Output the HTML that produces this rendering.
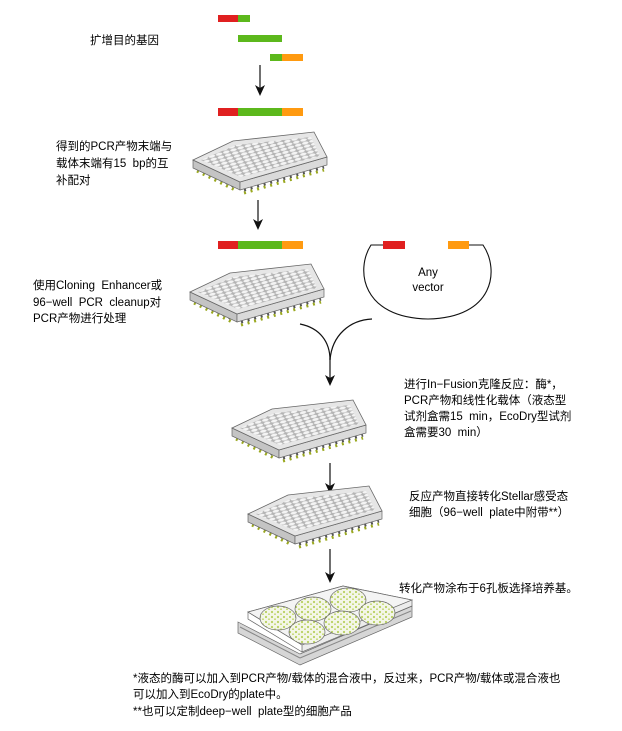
<!DOCTYPE html>
<html><head><meta charset="utf-8"><style>
html,body{margin:0;padding:0;background:#fff;}
svg{display:block;}
text{font-family:"Liberation Sans","Noto Sans CJK SC",sans-serif;font-size:11.5px;fill:#000;white-space:pre;}
</style></head><body>
<svg width="622" height="731" viewBox="0 0 622 731" xmlns="http://www.w3.org/2000/svg">
<defs>
<pattern id="wells" patternUnits="userSpaceOnUse" width="1" height="1" patternTransform="matrix(7.2,-2.1,1.75,3,0,0)">
<rect width="1" height="1" fill="#b4b4b4"/>
<ellipse cx=".5" cy=".5" rx=".44" ry=".42" fill="#f4f4f4"/>
</pattern>
<pattern id="dots" patternUnits="userSpaceOnUse" width="6" height="5">
<rect width="6" height="5" fill="#f4f6e8"/>
<circle cx="2" cy="2" r="1.1" fill="#b8d060"/>
<circle cx="5" cy="4.3" r="1" fill="#c6da7a"/>
</pattern>
<g id="plate">
<line x1="4" y1="11" x2="44" y2="31" stroke="#9aa820" stroke-width="3" stroke-dasharray="2 4.5"/>
<line x1="51" y1="33" x2="131" y2="10" stroke="#9aa820" stroke-width="3" stroke-dasharray="2 4.8"/>
<line x1="4" y1="8" x2="44" y2="28" stroke="#555" stroke-width="3" stroke-dasharray="2 4.5"/>
<line x1="51" y1="30" x2="131" y2="7" stroke="#555" stroke-width="3" stroke-dasharray="2 4.8"/>
<path d="M0,0 L47,22 L47,30 L0,8 Z" fill="#c4c4c4" stroke="#666" stroke-width=".7"/>
<path d="M47,22 L134,-3 L134,5 L47,30 Z" fill="#dadada" stroke="#666" stroke-width=".7"/>
<path d="M0,0 L40,-19 L121,-28 L134,-3 L47,22 Z" fill="#e6e6e6" stroke="#666" stroke-width=".8"/>
<path d="M8,0 L43,-15 L118,-23 L127,-4 L48,17 Z" fill="url(#wells)"/>
</g>
</defs>

<rect x="218" y="15" width="20" height="7" fill="#e02020"/><rect x="238" y="15" width="12" height="7" fill="#5cb81c"/>
<rect x="238" y="35" width="44" height="7" fill="#5cb81c"/>
<rect x="270" y="54" width="12" height="7" fill="#5cb81c"/><rect x="282" y="54" width="21" height="7" fill="#ff9a10"/>
<text x="90" y="44">扩增目的基因</text>

<g stroke="#111" stroke-width="1.2" fill="none">
<line x1="260" y1="65" x2="260" y2="88"/>
<line x1="258" y1="200" x2="258" y2="222"/>
<line x1="330" y1="358" x2="330" y2="378"/>
<line x1="330" y1="463" x2="330" y2="486"/>
<line x1="330" y1="549" x2="330" y2="575"/>
<path d="M300,324 C320,328 330,342 330,360"/>
<path d="M372,319 C350,320 332,335 330,360"/>
</g>
<g fill="#111">
<path d="M255,85 L260,96 L265,85 L260,88Z"/>
<path d="M253,219 L258,230 L263,219 L258,222Z"/>
<path d="M325,375 L330,386 L335,375 L330,378Z"/>
<path d="M325,483 L330,494 L335,483 L330,486Z"/>
<path d="M325,572 L330,583 L335,572 L330,575Z"/>
</g>

<rect x="218" y="108" width="20" height="8" fill="#e02020"/><rect x="238" y="108" width="44" height="8" fill="#5cb81c"/><rect x="282" y="108" width="21" height="8" fill="#ff9a10"/>
<rect x="218" y="241" width="20" height="8" fill="#e02020"/><rect x="238" y="241" width="44" height="8" fill="#5cb81c"/><rect x="282" y="241" width="21" height="8" fill="#ff9a10"/>

<use href="#plate" x="193" y="160"/>
<use href="#plate" x="190" y="292"/>
<use href="#plate" x="232" y="428"/>
<use href="#plate" x="248" y="514"/>

<text x="56" y="150">得到的PCR产物末端与</text>
<text x="56" y="167">载体末端有15  bp的互</text>
<text x="56" y="184">补配对</text>

<text x="33" y="289">使用Cloning  Enhancer或</text>
<text x="33" y="306">96−well  PCR  cleanup对</text>
<text x="33" y="322">PCR产物进行处理</text>

<path d="M383,245 L371,245 C355,270 362,318 428,319 C494,318 500,270 483,245 L469,245" fill="none" stroke="#111" stroke-width="1.1"/>
<rect x="383" y="241" width="22" height="8" fill="#e02020"/>
<rect x="448" y="241" width="21" height="8" fill="#ff9a10"/>
<text x="428" y="276" text-anchor="middle">Any</text>
<text x="428" y="291" text-anchor="middle">vector</text>

<text x="404" y="388">进行In−Fusion克隆反应：酶*，</text>
<text x="404" y="404">PCR产物和线性化载体（液态型</text>
<text x="404" y="420">试剂盒需15  min，EcoDry型试剂</text>
<text x="404" y="436">盒需要30  min）</text>

<text x="409" y="500">反应产物直接转化Stellar感受态</text>
<text x="409" y="516">细胞（96−well  plate中附带**）</text>

<text x="399" y="592">转化产物涂布于6孔板选择培养基。</text>

<path d="M238,622 L300,654 L412,606 L412,617 L300,665 L238,633 Z" fill="#d6d6d6" stroke="#666" stroke-width=".7"/>
<line x1="240" y1="627" x2="300" y2="658" stroke="#888" stroke-width="1"/>
<line x1="300" y1="658" x2="411" y2="611" stroke="#888" stroke-width="1"/>
<path d="M248,612 L343,586 L412,600 L412,606 L302,652 L302,645 Z" fill="#ececec" stroke="#666" stroke-width=".7"/>
<path d="M248,612 L248,619 L302,652" fill="none" stroke="#666" stroke-width=".7"/>
<path d="M248,612 L343,586 L412,600 L302,645 Z" fill="#f4f4f4" stroke="#666" stroke-width=".7"/>
<g fill="url(#dots)" stroke="#666" stroke-width=".7">
<ellipse cx="278" cy="618" rx="18" ry="12"/>
<ellipse cx="313" cy="609" rx="18" ry="12"/>
<ellipse cx="348" cy="600" rx="18" ry="12"/>
<ellipse cx="307" cy="632" rx="18" ry="12"/>
<ellipse cx="342" cy="623" rx="18" ry="12"/>
<ellipse cx="377" cy="613" rx="18" ry="12"/>
</g>

<text x="133" y="682">*液态的酶可以加入到PCR产物/载体的混合液中，反过来，PCR产物/载体或混合液也</text>
<text x="133" y="698">可以加入到EcoDry的plate中。</text>
<text x="133" y="715">**也可以定制deep−well  plate型的细胞产品</text>
</svg>
</body></html>
